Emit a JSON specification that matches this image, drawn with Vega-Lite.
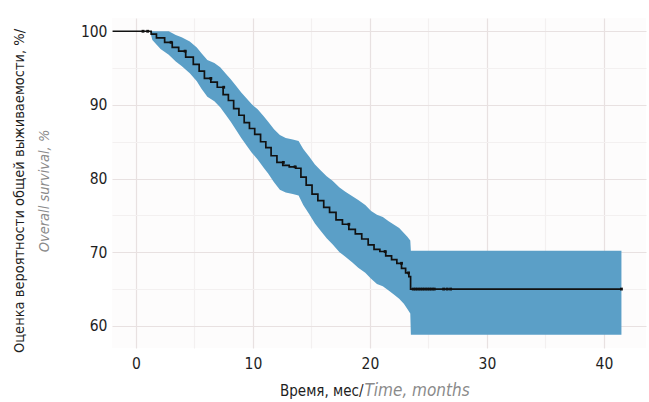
{
  "$schema": "https://vega.github.io/schema/vega-lite/v6.json",
  "width": 534,
  "height": 330,
  "autosize": {"type": "none"},
  "padding": {"left": 112, "top": 18, "right": 3, "bottom": 54},
  "background": "white",
  "config": {
    "view": {"fill": "#fdfcfc", "stroke": null},
    "font": "DejaVu Sans Condensed, sans-serif"
  },
  "title": {
    "text": "Оценка вероятности общей выживаемости, %/",
    "subtitle": "Overall survival, %",
    "orient": "left",
    "anchor": "middle",
    "frame": "group",
    "font": "DejaVu Sans Condensed, sans-serif",
    "subtitleFont": "DejaVu Sans Condensed, sans-serif",
    "fontSize": 14.5,
    "fontWeight": "normal",
    "color": "#1e1e1e",
    "subtitleFontSize": 14.5,
    "subtitleColor": "#8a8a8a",
    "subtitleFontStyle": "italic",
    "subtitlePadding": 10,
    "offset": 28,
    "dx": -8
  },
  "datasets": {
    "curve": [
      {"t": -2.0, "s": 100, "lo": 100, "hi": 100},
      {"t": 1.2, "s": 100, "lo": 100, "hi": 100},
      {"t": 1.4, "s": 99.6, "lo": 98.8, "hi": 100},
      {"t": 2.1, "s": 99.1, "lo": 97.6, "hi": 100},
      {"t": 2.8, "s": 98.5, "lo": 96.8, "hi": 100},
      {"t": 3.4, "s": 97.8, "lo": 95.9, "hi": 99.5},
      {"t": 3.9, "s": 97.3, "lo": 95.3, "hi": 99.2},
      {"t": 4.6, "s": 96.5, "lo": 94.3, "hi": 98.6},
      {"t": 5.2, "s": 95.5, "lo": 93.2, "hi": 97.8},
      {"t": 5.6, "s": 94.6, "lo": 92.2, "hi": 97.0},
      {"t": 6.1, "s": 93.6, "lo": 91.1, "hi": 96.1},
      {"t": 6.7, "s": 93.1, "lo": 90.5, "hi": 95.7},
      {"t": 7.2, "s": 92.4, "lo": 89.7, "hi": 95.1},
      {"t": 7.7, "s": 91.4, "lo": 88.6, "hi": 94.2},
      {"t": 8.1, "s": 90.6, "lo": 87.7, "hi": 93.5},
      {"t": 8.6, "s": 89.5, "lo": 86.5, "hi": 92.5},
      {"t": 9.0, "s": 88.6, "lo": 85.5, "hi": 91.7},
      {"t": 9.5, "s": 87.6, "lo": 84.4, "hi": 90.8},
      {"t": 9.9, "s": 86.8, "lo": 83.5, "hi": 90.1},
      {"t": 10.4, "s": 86.0, "lo": 82.6, "hi": 89.4},
      {"t": 10.9, "s": 85.0, "lo": 81.5, "hi": 88.5},
      {"t": 11.3, "s": 84.2, "lo": 80.7, "hi": 87.7},
      {"t": 11.8, "s": 83.1, "lo": 79.5, "hi": 86.7},
      {"t": 12.3, "s": 82.2, "lo": 78.5, "hi": 85.9},
      {"t": 12.8, "s": 81.8, "lo": 78.1, "hi": 85.5},
      {"t": 13.4, "s": 81.6, "lo": 77.9, "hi": 85.3},
      {"t": 13.9, "s": 81.4, "lo": 77.7, "hi": 85.1},
      {"t": 14.3, "s": 80.2, "lo": 76.4, "hi": 84.0},
      {"t": 14.8, "s": 79.1, "lo": 75.2, "hi": 83.0},
      {"t": 15.3, "s": 77.9, "lo": 73.9, "hi": 81.9},
      {"t": 15.8, "s": 77.0, "lo": 72.9, "hi": 81.1},
      {"t": 16.3, "s": 76.1, "lo": 71.9, "hi": 80.3},
      {"t": 16.8, "s": 75.4, "lo": 71.1, "hi": 79.7},
      {"t": 17.4, "s": 74.4, "lo": 70.0, "hi": 78.8},
      {"t": 17.9, "s": 73.8, "lo": 69.4, "hi": 78.2},
      {"t": 18.5, "s": 73.1, "lo": 68.6, "hi": 77.6},
      {"t": 19.0, "s": 72.5, "lo": 67.9, "hi": 77.1},
      {"t": 19.6, "s": 71.8, "lo": 67.2, "hi": 76.4},
      {"t": 20.1, "s": 71.0, "lo": 66.4, "hi": 75.6},
      {"t": 20.6, "s": 70.4, "lo": 65.7, "hi": 75.1},
      {"t": 21.1, "s": 70.1, "lo": 65.4, "hi": 74.8},
      {"t": 21.6, "s": 69.5, "lo": 64.8, "hi": 74.2},
      {"t": 22.1, "s": 69.0, "lo": 64.2, "hi": 73.7},
      {"t": 22.5, "s": 68.5, "lo": 63.7, "hi": 73.3},
      {"t": 22.9, "s": 67.8, "lo": 63.0, "hi": 72.6},
      {"t": 23.2, "s": 67.2, "lo": 62.3, "hi": 72.1},
      {"t": 23.45, "s": 66.7, "lo": 61.7, "hi": 71.6},
      {"t": 23.5, "s": 65.0, "lo": 58.8, "hi": 70.2},
      {"t": 41.5, "s": 65.0, "lo": 58.8, "hi": 70.2}
    ],
    "cens": [
      {"t": 0.6, "s": 100},
      {"t": 1.0, "s": 100},
      {"t": 3.0, "s": 98.5},
      {"t": 4.2, "s": 97.3},
      {"t": 6.4, "s": 93.6},
      {"t": 7.5, "s": 92.4},
      {"t": 12.6, "s": 82.2},
      {"t": 13.6, "s": 81.6},
      {"t": 18.2, "s": 73.8},
      {"t": 21.3, "s": 70.1},
      {"t": 22.7, "s": 68.5},
      {"t": 23.3, "s": 67.2},
      {"t": 23.7, "s": 65.0},
      {"t": 23.9, "s": 65.0},
      {"t": 24.1, "s": 65.0},
      {"t": 24.3, "s": 65.0},
      {"t": 24.5, "s": 65.0},
      {"t": 24.7, "s": 65.0},
      {"t": 24.9, "s": 65.0},
      {"t": 25.1, "s": 65.0},
      {"t": 25.3, "s": 65.0},
      {"t": 25.5, "s": 65.0},
      {"t": 26.3, "s": 65.0},
      {"t": 26.6, "s": 65.0},
      {"t": 26.9, "s": 65.0},
      {"t": 41.5, "s": 65.0}
    ]
  },
  "resolve": {"axis": {"x": "independent"}},
  "layer": [
    {
      "data": {"name": "curve"},
      "mark": {"type": "area", "interpolate": "linear", "color": "#5b9fc7", "opacity": 1},
      "encoding": {
        "x": {
          "field": "t", "type": "quantitative",
          "scale": {"domain": [-2.05, 43.6], "nice": false, "zero": false},
          "axis": {
            "values": [0, 5, 10, 15, 20, 25, 30, 35, 40],
            "labelExpr": "datum.value % 10 === 0 ? datum.label : ''",
            "labelOverlap": false,
            "grid": true,
            "gridColor": {"condition": {"test": "datum.value % 10 === 0", "value": "#e8e1e1"}, "value": "#f3f0f0"},
            "gridWidth": 1.2,
            "ticks": false,
            "domain": false,
            "labelFontSize": 15.5,
            "labelPadding": 8,
            "labelColor": "#1e1e1e",
            "title": "Время, мес/",
            "titleX": 251,
            "titleY": 42,
            "titleAlign": "right",
            "titleBaseline": "middle",
            "titleFontWeight": "normal",
            "titleFontSize": 15,
            "titleColor": "#1e1e1e"
          }
        },
        "y": {
          "field": "lo", "type": "quantitative",
          "scale": {"domain": [57.0, 101.8], "nice": false, "zero": false},
          "axis": {
            "values": [60, 65, 70, 75, 80, 85, 90, 95, 100],
            "labelExpr": "datum.value % 10 === 0 ? datum.label : ''",
            "labelOverlap": false,
            "grid": true,
            "gridColor": {"condition": {"test": "datum.value % 10 === 0", "value": "#e8e1e1"}, "value": "#f3f0f0"},
            "gridWidth": 1.2,
            "ticks": false,
            "domain": false,
            "labelFontSize": 15.5,
            "labelPadding": 5,
            "labelColor": "#1e1e1e",
            "title": null
          }
        },
        "y2": {"field": "hi"}
      }
    },
    {
      "data": {"name": "curve"},
      "mark": {"type": "line", "interpolate": "step", "color": "#111111", "strokeWidth": 1.7},
      "encoding": {
        "x": {
          "field": "t", "type": "quantitative",
          "axis": {
            "orient": "bottom",
            "labels": false,
            "ticks": false,
            "domain": false,
            "grid": false,
            "title": "Time, months",
            "titleX": 252,
            "titleY": 42,
            "titleAlign": "left",
            "titleBaseline": "middle",
            "titleFontWeight": "normal",
            "titleFontStyle": "italic",
            "titleFontSize": 17,
            "titleColor": "#8a8a8a"
          }
        },
        "y": {"field": "s", "type": "quantitative"}
      }
    },
    {
      "data": {"name": "cens"},
      "mark": {"type": "point", "shape": "square", "filled": true, "size": 8, "color": "#111111", "opacity": 1},
      "encoding": {
        "x": {"field": "t", "type": "quantitative", "axis": null},
        "y": {"field": "s", "type": "quantitative"}
      }
    }
  ]
}
